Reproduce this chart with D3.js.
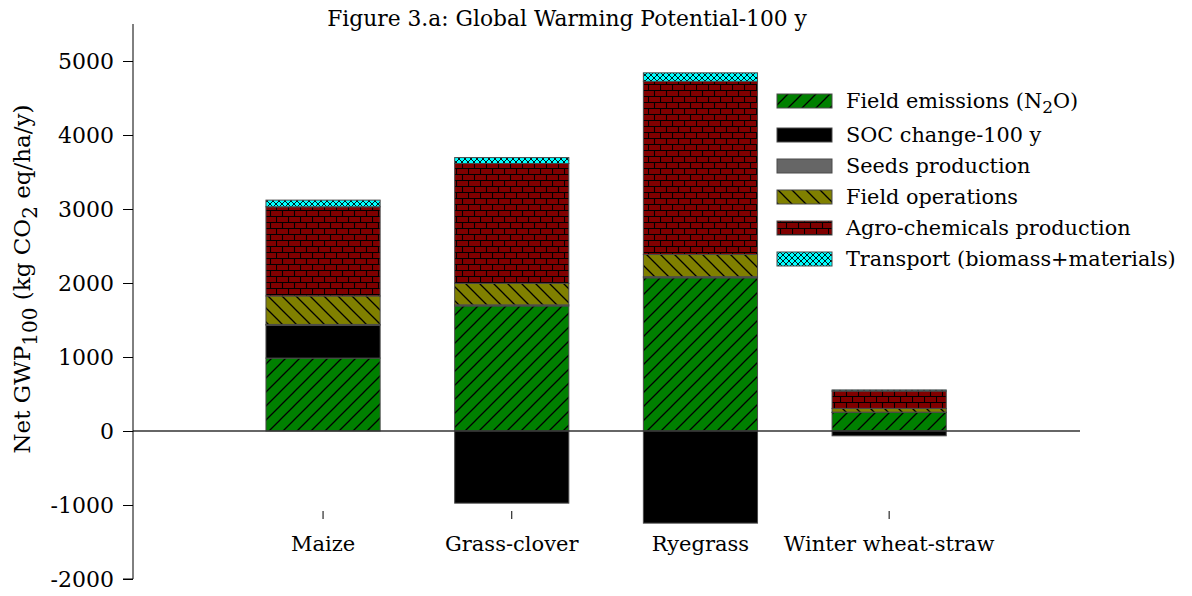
<!DOCTYPE html>
<html>
<head>
<meta charset="utf-8">
<script src="https://cdn.jsdelivr.net/npm/d3@7"></script>
<style>
  html, body { margin: 0; padding: 0; background: #fff; }
  svg { display: block; font-family: "DejaVu Serif", serif; }
</style>
</head>
<body>
<svg id="chart" width="1192" height="596"></svg>
<script>
// ---- data ----
const categories = ["Maize", "Grass-clover", "Ryegrass", "Winter wheat-straw"];
const fieldEmissions = [985, 1690, 2070, 250];
const socChange = [445, -975, -1245, -65];
const seedsProduction = [10, 15, 15, 5];
const fieldOperations = [385, 290, 300, 50];
const agroChemicals = [1205, 1620, 2340, 235];
const transport = [90, 80, 115, 15];
const yTicks = [-2000, -1000, 0, 1000, 2000, 3000, 4000, 5000];
const seriesNames = ["Field emissions (N2O)", "SOC change-100 y", "Seeds production",
                     "Field operations", "Agro-chemicals production", "Transport (biomass+materials)"];

const seriesValues = [fieldEmissions, socChange, seedsProduction, fieldOperations, agroChemicals, transport];
const keys = ["n2o", "soc", "seeds", "ops", "agro", "transport"];
const fills = ["url(#pGreen)", "#000000", "#666666", "url(#pOlive)", "url(#pBrick)", "url(#pCyan)"];

const table = categories.map((c, i) => {
  const row = { category: c };
  keys.forEach((k, j) => row[k] = seriesValues[j][i]);
  return row;
});

const svg = d3.select("#chart");

// ---- patterns ----
const defs = svg.append("defs");
const pg = defs.append("pattern").attr("id", "pGreen").attr("patternUnits", "userSpaceOnUse")
  .attr("width", 14).attr("height", 14);
pg.append("rect").attr("width", 14).attr("height", 14).attr("fill", "#008000");
pg.append("path").attr("d", "M0,14 L14,0 M-3,3 L3,-3 M11,17 L17,11")
  .attr("stroke", "#000").attr("stroke-width", 1.3);
const po = defs.append("pattern").attr("id", "pOlive").attr("patternUnits", "userSpaceOnUse")
  .attr("width", 14).attr("height", 14);
po.append("rect").attr("width", 14).attr("height", 14).attr("fill", "#808000");
po.append("path").attr("d", "M0,0 L14,14 M-3,11 L3,17 M11,-3 L17,3")
  .attr("stroke", "#000").attr("stroke-width", 1.3);
const pb = defs.append("pattern").attr("id", "pBrick").attr("patternUnits", "userSpaceOnUse")
  .attr("width", 12).attr("height", 12);
pb.append("rect").attr("width", 12).attr("height", 12).attr("fill", "#800000");
pb.append("path").attr("d", "M0,0.5 H12 M0,6.5 H12 M0.5,0 V6 M6.5,6 V12")
  .attr("stroke", "#000").attr("stroke-width", 1.1);
const pc = defs.append("pattern").attr("id", "pCyan").attr("patternUnits", "userSpaceOnUse")
  .attr("width", 6).attr("height", 6);
pc.append("rect").attr("width", 6).attr("height", 6).attr("fill", "#00ffff");
pc.append("path").attr("d", "M0,0 L6,6 M6,0 L0,6")
  .attr("stroke", "#000").attr("stroke-width", 0.9);

// ---- scales ----
const x = d3.scaleBand().domain(categories).range([228.7, 983.5])
  .paddingInner(0.395).paddingOuter(0.1975);
const y = d3.scaleLinear().domain([-2000, 5500]).range([579, 24]);

// ---- stacked bars ----
const stack = d3.stack().keys(keys).offset(d3.stackOffsetDiverging);
const stacked = stack(table);

const layers = svg.append("g").selectAll("g").data(stacked).join("g")
  .attr("fill", (d, i) => fills[i]);
layers.selectAll("rect").data(d => d.filter(s => s[1] !== s[0])).join("rect")
  .attr("x", d => x(d.data.category))
  .attr("width", x.bandwidth())
  .attr("y", d => y(Math.max(d[0], d[1])))
  .attr("height", d => Math.abs(y(d[0]) - y(d[1])))
  .attr("stroke", "#4a4a4a").attr("stroke-width", 1);

// ---- zero line ----
svg.append("line").attr("x1", 133).attr("x2", 1080)
  .attr("y1", y(0)).attr("y2", y(0))
  .attr("stroke", "#333").attr("stroke-width", 1.5);

// ---- y axis ----
const yAxis = d3.axisLeft(y).tickValues(yTicks).tickSize(10).tickPadding(9)
  .tickFormat(d => String(d));
const gy = svg.append("g").attr("transform", "translate(133,0)").call(yAxis);
gy.select(".domain").attr("d", `M0,${y(5500)}V${y(-2000)}H-10`).attr("stroke", "#000");
gy.selectAll(".tick line").attr("stroke", "#000");
gy.selectAll(".tick text").attr("font-size", 22).attr("font-family", "DejaVu Serif").attr("fill", "#000");

// ---- x axis (ticks + labels, no line) ----
const xAxis = d3.axisBottom(x).tickSize(8).tickPadding(17);
const gx = svg.append("g").attr("transform", "translate(0,511)").call(xAxis);
gx.select(".domain").remove();
gx.selectAll(".tick line").attr("stroke", "#000");
gx.selectAll(".tick text").attr("font-size", 21).attr("font-family", "DejaVu Serif").attr("fill", "#000");

// ---- title ----
svg.append("text").attr("x", 567).attr("y", 26).attr("text-anchor", "middle")
  .attr("font-size", 21.8).text("Figure 3.a: Global Warming Potential-100 y");

// ---- y label ----
const yl = svg.append("text").attr("transform", "translate(30,279) rotate(-90)")
  .attr("text-anchor", "middle").attr("font-size", 23);
yl.append("tspan").text("Net GWP");
yl.append("tspan").attr("dy", 7).attr("font-size", 20).text("100");
yl.append("tspan").attr("dy", -7).text(" (kg CO");
yl.append("tspan").attr("dy", 7).attr("font-size", 20).text("2");
yl.append("tspan").attr("dy", -7).text(" eq/ha/y)");

// ---- legend ----
const legendY = (i) => i === 0 ? 101 : 135 + (i - 1) * 31;
const lg = svg.append("g");
seriesNames.forEach((name, i) => {
  const cy = legendY(i);
  lg.append("rect").attr("x", 777).attr("y", cy - 7).attr("width", 55).attr("height", 14)
    .attr("fill", fills[i]).attr("stroke", "#4a4a4a").attr("stroke-width", 1);
  const t = lg.append("text").attr("x", 846).attr("y", cy + 7).attr("font-size", 20.8);
  if (i === 0) {
    t.append("tspan").text("Field emissions (N");
    t.append("tspan").attr("dy", 5).attr("font-size", 17).text("2");
    t.append("tspan").attr("dy", -5).text("O)");
  } else {
    t.text(name);
  }
});
</script>
</body>
</html>
